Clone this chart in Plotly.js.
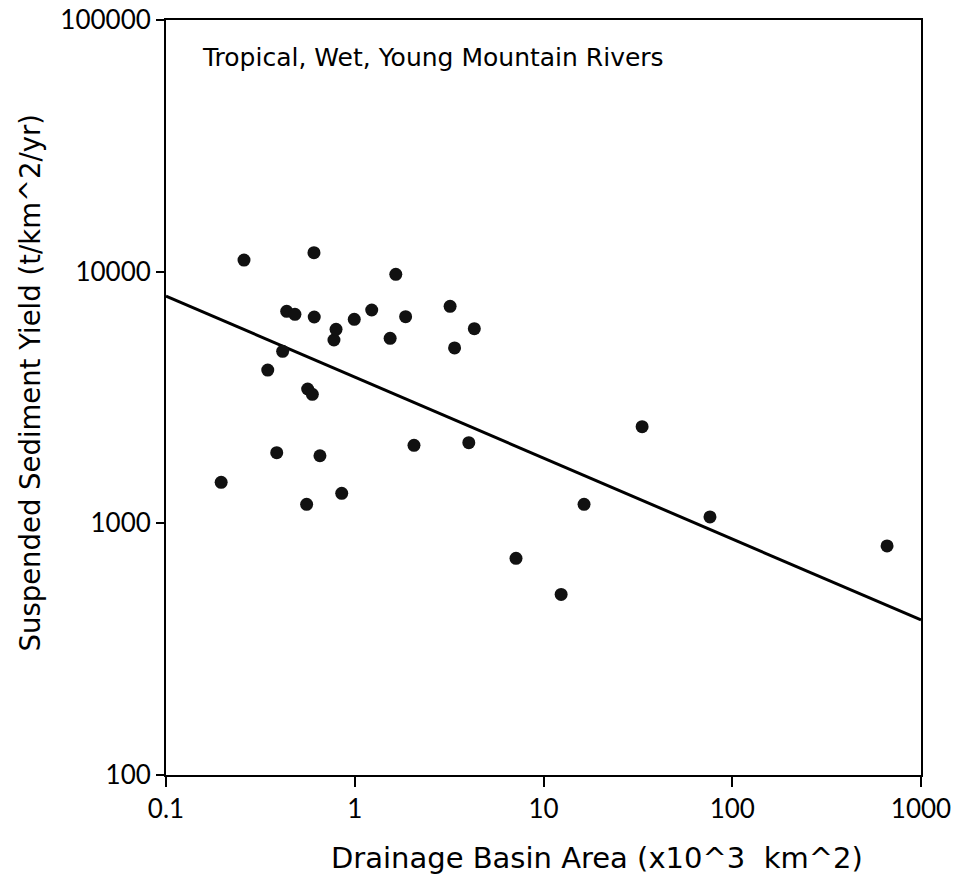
<!DOCTYPE html>
<html>
<head>
<meta charset="utf-8">
<script src="https://cdn.plot.ly/plotly-3.0.1.min.js"></script>
<style>html,body{margin:0;padding:0;background:#fff;}</style>
</head>
<body>
<div id="chart" style="width:964px;height:876px;"></div>
<script>
// Drainage basin area (x10^3 km^2)
const areaValues = [0.196, 0.259, 0.346, 0.386, 0.415, 0.436, 0.482, 0.556, 0.563, 0.596,
  0.608, 0.610, 0.654, 0.776, 0.796, 0.853, 0.994, 1.23, 1.54, 1.65,
  1.86, 2.06, 3.20, 3.38, 4.02, 4.30, 7.15, 12.4, 16.4, 33.3, 76.2, 661];
// Suspended sediment yield (t/km^2/yr)
const yieldValues = [1455, 11120, 4064, 1909, 4826, 6959, 6771, 1190, 3418, 3256,
  11898, 6605, 1856, 5352, 5902, 1316, 6467, 7042, 5435, 9761,
  6623, 2042, 7285, 4975, 2091, 5935, 726, 522, 1190, 2421, 1060, 813];
// Regression line end points
const fitX = [0.1, 1000];
const fitY = [8000, 413];
const xTickVals = [0.1, 1, 10, 100, 1000];
const xTickText = ["0.1", "1", "10", "100", "1000"];
const yTickVals = [100, 1000, 10000, 100000];
const yTickText = ["100", "1000", "10000", "100000"];

const tickFont = "'Liberation Sans Narrow', Lato, sans-serif";
const textFont = "'DejaVu Sans', sans-serif";

const traces = [
  {x: fitX, y: fitY, mode: "lines", line: {color: "#000", width: 3}, hoverinfo: "skip"},
  {x: areaValues, y: yieldValues, mode: "markers",
   marker: {color: "#111", size: 13, line: {width: 0}}}
];

const layout = {
  width: 964, height: 876,
  margin: {l: 166, r: 43, t: 20, b: 101},
  paper_bgcolor: "#fff", plot_bgcolor: "#fff",
  showlegend: false,
  font: {family: tickFont, color: "#000", size: 20},
  xaxis: {
    type: "log", range: [-1, 3],
    tickvals: xTickVals, ticktext: xTickText,
    ticks: "outside", ticklen: 10, tickwidth: 2, tickcolor: "#000",
    showline: true, linewidth: 2, linecolor: "#000", mirror: true,
    showgrid: false, zeroline: false,
    tickfont: {size: 26, family: tickFont}
  },
  yaxis: {
    type: "log", range: [2, 5],
    tickvals: yTickVals, ticktext: yTickText,
    ticks: "outside", ticklen: 8, tickwidth: 2, tickcolor: "#000",
    showline: true, linewidth: 2, linecolor: "#000", mirror: true,
    showgrid: false, zeroline: false,
    tickfont: {size: 26, family: tickFont}
  },
  annotations: [
    {text: "Tropical, Wet, Young Mountain Rivers", xref: "paper", yref: "paper",
     x: 0.045, y: 0.95, xanchor: "left", yanchor: "middle", showarrow: false,
     font: {size: 25, family: textFont}},
    {text: "Drainage Basin Area (x10^3  km^2)", xref: "paper", yref: "paper",
     x: 0.571, y: -0.11, xanchor: "center", yanchor: "middle", showarrow: false,
     font: {size: 29, family: textFont}},
    {text: "Suspended Sediment Yield (t/km^2/yr)", xref: "paper", yref: "paper",
     x: -0.18, y: 0.52, xanchor: "center", yanchor: "middle", showarrow: false,
     textangle: -90, font: {size: 27.5, family: textFont}}
  ]
};

Plotly.newPlot("chart", traces, layout, {displayModeBar: false, staticPlot: true});
</script>
</body>
</html>
